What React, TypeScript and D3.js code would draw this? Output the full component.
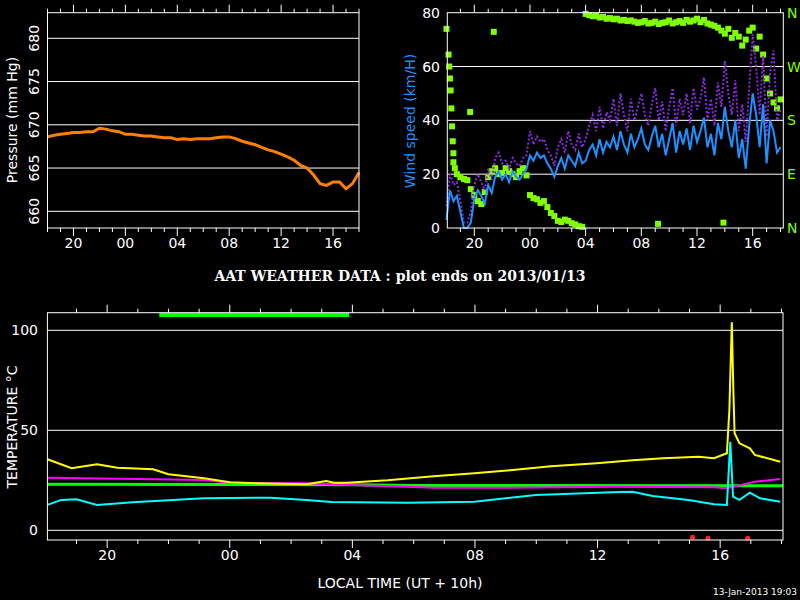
import React from 'react';
import * as d3 from 'd3';

// hours since previous midnight (24 = 00 local)
const pressureStart = 18;
const pressureStep = 0.5;
const pressure = [
  668.6, 668.8, 668.9, 669.0, 669.1, 669.1, 669.2, 669.2, 669.6, 669.5, 669.3, 669.2,
  668.9, 668.9, 668.8, 668.7, 668.7, 668.6, 668.5, 668.5, 668.3, 668.4, 668.3, 668.4,
  668.4, 668.4, 668.5, 668.6, 668.6, 668.4, 668.1, 667.9, 667.7, 667.4, 667.1, 666.9,
  666.6, 666.3, 665.9, 665.3, 665.0, 664.2, 663.2, 663.0, 663.4, 663.4, 662.6, 663.2, 664.5,
];

const windStart = 18;
const windStep = 0.25;
const windMean = [
  3, 14, 10, 12, 6, 0, 0, 2, 11, 14, 12, 9, 16, 13, 19, 21,
  18, 20, 17, 21, 19, 18, 20, 22, 27, 25, 28, 26, 27, 24, 22, 19,
  23, 26, 22, 27, 25, 23, 28, 24, 25, 29, 31, 27, 33, 28, 32, 30,
  34, 29, 36, 31, 28, 35, 30, 33, 37, 31, 29, 34, 38, 30, 35, 27,
  33, 39, 28, 36, 31, 37, 29, 38, 32, 36, 41, 30, 35, 27, 39, 33,
  45, 36, 30, 40, 26, 33, 22, 38, 50, 42, 30, 46, 24, 40, 36, 28, 30,
];
const windGust = [
  8, 20, 16, 17, 10, 2, 2, 6, 16, 20, 17, 14, 22, 18, 26, 28,
  24, 25, 22, 26, 24, 23, 26, 27, 36, 31, 34, 32, 33, 29, 27, 23,
  30, 33, 28, 36, 31, 29, 35, 30, 33, 38, 42, 36, 45, 37, 43, 40,
  48, 38, 50, 42, 36, 48, 40, 45, 50, 42, 38, 46, 52, 40, 47, 36,
  45, 52, 38, 48, 42, 50, 39, 52, 44, 48, 56, 40, 48, 38, 54, 45,
  62, 50, 42, 55, 36, 46, 32, 52, 72, 60, 42, 64, 34, 58, 66, 40, 44,
];
const windDir = [
  333, 250, 110, 90, 85, 82, 80, 65, 55, 45, 40, 60, 85, 95, 100, 90,
  92, 100, 95, 90, 85, 95, 100, 88, 55, 50, 48, 42, 45, 35, 25, 20,
  12, 10, 14, 12, 8, 6, 3, 2, 358, 356, 354, 355, 352, 353, 350, 351,
  349, 350, 347, 348, 346, 347, 345, 343, 344, 346, 342, 343, 345, 341, 343, 344,
  347, 342, 344, 346, 343, 348, 345, 347, 350, 344, 348, 342, 340, 338, 335, 330,
  325, 333, 318, 326, 320, 305, 315, 330, 335, 300, 320, 290, 250, 225, 210, 200, 215,
];
const windDirExtra: [number, number][] = [
  [21.4, 328], [19.7, 194], [33.2, 7], [37.9, 9], [18.15, 290], [18.2, 270], [18.3, 230],
  [18.35, 200], [18.4, 170], [18.45, 145], [18.5, 125], [18.6, 100],
];

const airTemp: [number, number][] = [
  [18.05, 35.5], [18.84, 31], [19.67, 33], [20.33, 31.3], [21.5, 30.5], [22.0, 28], [23.16, 26],
  [24.0, 24], [24.83, 23.5], [26.5, 23], [27.15, 24.6], [27.4, 23.8], [27.82, 23.8], [29.15, 25],
  [30.65, 27], [31.98, 28.5], [33.15, 30], [34.48, 32], [35.97, 33.5], [37.14, 35], [38.14, 36],
  [39.3, 36.8], [39.8, 36], [40.22, 38.5], [40.3, 60], [40.38, 104], [40.43, 70], [40.47, 48.5],
  [40.63, 43.5], [40.97, 41], [41.13, 37.7], [41.96, 34.3],
];
const dewTemp: [number, number][] = [
  [18.05, 12.7], [18.5, 15.2], [19.0, 15.5], [19.67, 12.7], [20.83, 14], [23.16, 16], [25.32, 16.3],
  [26.5, 15.2], [27.32, 14.2], [29.82, 13.8], [31.98, 14.3], [33.98, 17.7], [36.48, 19], [37.14, 19.3],
  [37.8, 17.2], [38.97, 15.2], [39.8, 13], [40.22, 12.7], [40.33, 44.3], [40.42, 16.8], [40.63, 15.2],
  [40.97, 18.8], [41.3, 16], [41.96, 14.3],
];
const roomTemp: [number, number][] = [
  [18.05, 26.3], [21.5, 25.5], [23.16, 25.2], [24.0, 23.8], [26.5, 23.5], [28.15, 22.5], [29.82, 21.8],
  [30.65, 21.3], [33.15, 21.3], [36.48, 21.8], [39.8, 21.5], [40.22, 21], [41.13, 24.3], [41.96, 25.7],
];
const domeTemp: [number, number][] = [[18.05, 23], [28, 22.8], [30, 22.4], [42.05, 22.3]];
const statusBar: [number, number][] = [[21.7, 107.6], [27.9, 107.6]];
const rainDots: [number, number][] = [[39.1, -3.5], [39.6, -4], [40.9, -4]];

const pressureTicks = [660, 665, 670, 675, 680];
const windTicks = [0, 20, 40, 60, 80];
const dirLabels = ['N', 'E', 'S', 'W', 'N'];
const tempTicks = [0, 50, 100];
const hourLabels = [20, 24, 28, 32, 36, 40];

const font = 'DejaVu Sans, sans-serif';
const fmtHour = (h: number) => String(h % 24).padStart(2, '0');

function TimeAxis({ x, y0, y1, labelY }: { x: d3.ScaleLinear<number, number>; y0: number; y1: number; labelY: number }) {
  const [a, b] = x.domain();
  const hours = d3.range(Math.ceil(a), Math.floor(b) + 1);
  return (
    <g>
      {hours.map(h => {
        const major = h % 4 === 0;
        const len = major ? 8 : 4;
        return (
          <g key={h}>
            <line x1={x(h)} x2={x(h)} y1={y0} y2={y0 - len} stroke="#fff" />
            <line x1={x(h)} x2={x(h)} y1={y1} y2={y1 + len} stroke="#fff" />
          </g>
        );
      })}
      {hourLabels.map(h => (
        <text key={h} x={x(h)} y={labelY} fill="#fff" fontSize={14} fontFamily={font} textAnchor="middle">
          {fmtHour(h)}
        </text>
      ))}
    </g>
  );
}

export default function App() {
  // pressure panel
  const px = d3.scaleLinear().domain([18, 42]).range([47.5, 359]);
  const py = d3.scaleLinear().domain([658.07, 682.96]).range([228, 12.7]);
  const pLine = d3.line<number>().x((_, i) => px(pressureStart + i * pressureStep)).y(d => py(d));

  // wind panel
  const wx = d3.scaleLinear().domain([18.06, 42.2]).range([447.3, 783.3]);
  const wy = d3.scaleLinear().domain([0, 80]).range([228, 12.7]);
  const wd = d3.scaleLinear().domain([0, 360]).range([228, 12.7]);
  const wLine = d3.line<number>().x((_, i) => wx(windStart + i * windStep)).y(d => wy(d));

  // temperature panel
  const tx = d3.scaleLinear().domain([18.05, 42.05]).range([47.4, 783]);
  const ty = d3.scaleLinear().domain([-4.85, 108.8]).range([540, 312.7]);
  const tLine = d3.line<[number, number]>().x(d => tx(d[0])).y(d => ty(d[1]));

  return (
    <svg width={800} height={600} style={{ position: 'absolute', left: 0, top: 0, background: '#000' }}>
      <rect width={800} height={600} fill="#000" />

      {/* Pressure */}
      {pressureTicks.map(t => (
        <g key={t}>
          <line x1={px.range()[0]} x2={px.range()[1]} y1={py(t)} y2={py(t)} stroke="#fff" />
          <g transform={`translate(39,${py(t)}) rotate(-90)`}>
            <text x={0} y={0} fill="#fff" fontSize={14} fontFamily={font} textAnchor="middle">{t}</text>
          </g>
        </g>
      ))}
      <path d={pLine(pressure) ?? ''} fill="none" stroke="#ff8000" strokeWidth={3} />
      <rect x={47.5} y={12.7} width={359 - 47.5} height={228 - 12.7} fill="none" stroke="#fff" />
      <TimeAxis x={px} y0={12.7} y1={228} labelY={248} />
      <g transform="translate(17,120) rotate(-90)">
        <text fill="#fff" fontSize={14} fontFamily={font} textAnchor="middle">Pressure (mm Hg)</text>
      </g>

      {/* Wind */}
      {[20, 40, 60].map(t => (
        <line key={t} x1={447.3} x2={783.3} y1={wy(t)} y2={wy(t)} stroke="#fff" />
      ))}
      {windTicks.map(t => (
        <text key={t} x={440} y={wy(t) + 5} fill="#fff" fontSize={14} fontFamily={font} textAnchor="end">{t}</text>
      ))}
      {dirLabels.map((l, i) => (
        <text key={i} x={787} y={wd(i * 90) + 5} fill="#80ff00" fontSize={14} fontFamily={font}>{l}</text>
      ))}
      {windDir.map((d, i) => (
        <rect key={i} x={wx(windStart + i * windStep) - 3} y={wd(d) - 3} width={6} height={6} fill="#80ff00" />
      ))}
      {windDirExtra.map((d, i) => (
        <rect key={'e' + i} x={wx(d[0]) - 3} y={wd(d[1]) - 3} width={6} height={6} fill="#80ff00" />
      ))}
      <path d={wLine(windGust) ?? ''} fill="none" stroke="#8a2be2" strokeWidth={2} strokeDasharray="2,2" />
      <path d={wLine(windMean) ?? ''} fill="none" stroke="#1e90ff" strokeWidth={2} />
      <rect x={447.3} y={12.7} width={783.3 - 447.3} height={228 - 12.7} fill="none" stroke="#fff" />
      <TimeAxis x={wx} y0={12.7} y1={228} labelY={248} />
      <g transform="translate(415,121) rotate(-90)">
        <text fill="#1e90ff" fontSize={14} fontFamily={font} textAnchor="middle">Wind speed (km/H)</text>
      </g>

      <text x={400} y={281} fill="#fff" fontSize={14} fontFamily="DejaVu Serif, serif" fontWeight="bold" textAnchor="middle">AAT WEATHER DATA : plot ends on 2013/01/13</text>

      {/* Temperature */}
      {tempTicks.map(t => (
        <g key={t}>
          <line x1={47.4} x2={783} y1={ty(t)} y2={ty(t)} stroke="#fff" />
          <text x={38} y={ty(t) + 5} fill="#fff" fontSize={14} fontFamily={font} textAnchor="end">{t}</text>
        </g>
      ))}
      <path d={tLine(statusBar) ?? ''} fill="none" stroke="#00ff00" strokeWidth={4} />
      <path d={tLine(domeTemp) ?? ''} fill="none" stroke="#00ff00" strokeWidth={3} />
      <path d={tLine(roomTemp) ?? ''} fill="none" stroke="#ff00ff" strokeWidth={2} />
      <path d={tLine(dewTemp) ?? ''} fill="none" stroke="#00ffff" strokeWidth={2} />
      <path d={tLine(airTemp) ?? ''} fill="none" stroke="#ffff00" strokeWidth={2} />
      {rainDots.map((d, i) => (
        <circle key={i} cx={tx(d[0])} cy={ty(d[1])} r={2.5} fill="#ff2020" />
      ))}
      <rect x={47.4} y={312.7} width={783 - 47.4} height={540 - 312.7} fill="none" stroke="#fff" />
      <TimeAxis x={tx} y0={312.7} y1={540} labelY={560} />
      <g transform="translate(17,427) rotate(-90)">
        <text fill="#fff" fontSize={14} fontFamily={font} textAnchor="middle">TEMPERATURE °C</text>
      </g>
      <text x={400} y={588} fill="#fff" fontSize={14} fontFamily={font} textAnchor="middle">LOCAL TIME (UT + 10h)</text>
      <text x={797} y={595} fill="#fff" fontSize={9} fontFamily={font} textAnchor="end">13-Jan-2013 19:03</text>
    </svg>
  );
}
